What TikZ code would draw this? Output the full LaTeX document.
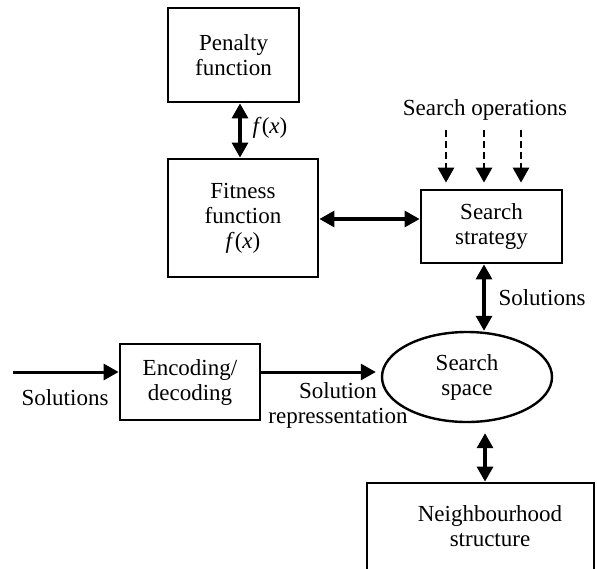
\documentclass[tikz,border=0pt]{standalone}
\usepackage{fontspec}
\setmainfont{Liberation Serif}
\usetikzlibrary{arrows.meta,shapes.geometric}

\begin{document}
\begin{tikzpicture}[x=1pt,y=-1pt,
	every node/.style={font=\fontsize{23}{25}\selectfont, align=center},
	box/.style={draw, line width=2.8pt, inner sep=0pt},
	dbl/.style={{Triangle[length=15pt,width=16pt]}-{Triangle[length=15pt,width=16pt]}, line width=3.2pt},
	one/.style={-{Triangle[length=15pt,width=16pt]}, line width=3pt},
	dsh/.style={-{Triangle[length=15pt,width=16pt]}, line width=2.8pt, dash pattern=on 7pt off 4pt}]
			\useasboundingbox (0,0) rectangle (597,568);
			\clip (0,0) rectangle (597,568);
			% Các khối
			\node[box, minimum width=131pt, minimum height=94pt] (penalty) at (233.5,55) {Penalty\\function};
			\node[box, minimum width=150pt, minimum height=118pt] (fitness) at (243,218) {Fitness\\function\\\textit{f}(\textit{x})};
			\node[box, minimum width=141pt, minimum height=73pt] (strategy) at (491.5,226.5) {Search\\strategy};
			\node[box, minimum width=140pt, minimum height=76pt] (coding) at (190,382) {Encoding/\\decoding};
			\node[draw, ellipse, line width=2.4pt, inner sep=0pt, minimum width=170pt, minimum height=90pt] (space) at (467,377) {Search\\space};
			\node[box, minimum width=227pt, minimum height=90pt] (neighbour) at (480.5,528) {};
			\node (nbtext) at (490,526) {Neighbourhood\\structure};
			% Nhãn
			\node (ops) at (485,110) {Search operations};
			\node (fx) at (270,128) {\textit{f}(\textit{x})};
			\node (solout) at (542,298) {Solutions};
			\node (solin) at (65,398) {Solutions};
			\node (repr) at (338,405) {Solution\\repressentation};
			% Điểm phụ
			\coordinate (pf) at (240,0);
			\coordinate (hy) at (0,219);
			\coordinate (sc) at (484,0);
			\coordinate (nc) at (485,0);
			\coordinate (start) at (13,372);
			% Mũi tên
			\draw[dbl] (penalty.south -| pf) -- (fitness.north -| pf);
			\draw[dbl] (fitness.east |- hy) -- (strategy.west |- hy);
			\draw[dbl] (strategy.south -| sc) -- (space.north -| sc);
			\draw[dbl, shorten <=10pt] (space.south -| nc) -- (neighbour.north -| nc);
			\draw[one] (start) -- (start -| coding.west);
			\draw[one, shorten >=5pt] (coding.east |- start) -- (space.west |- start);
			\foreach \x in {446,484,521} {
				\coordinate (op\x) at (\x,130);
				\draw[dsh, shorten >=6pt] (op\x) -- (op\x |- strategy.north);
			}
		\end{tikzpicture}
\end{document}
